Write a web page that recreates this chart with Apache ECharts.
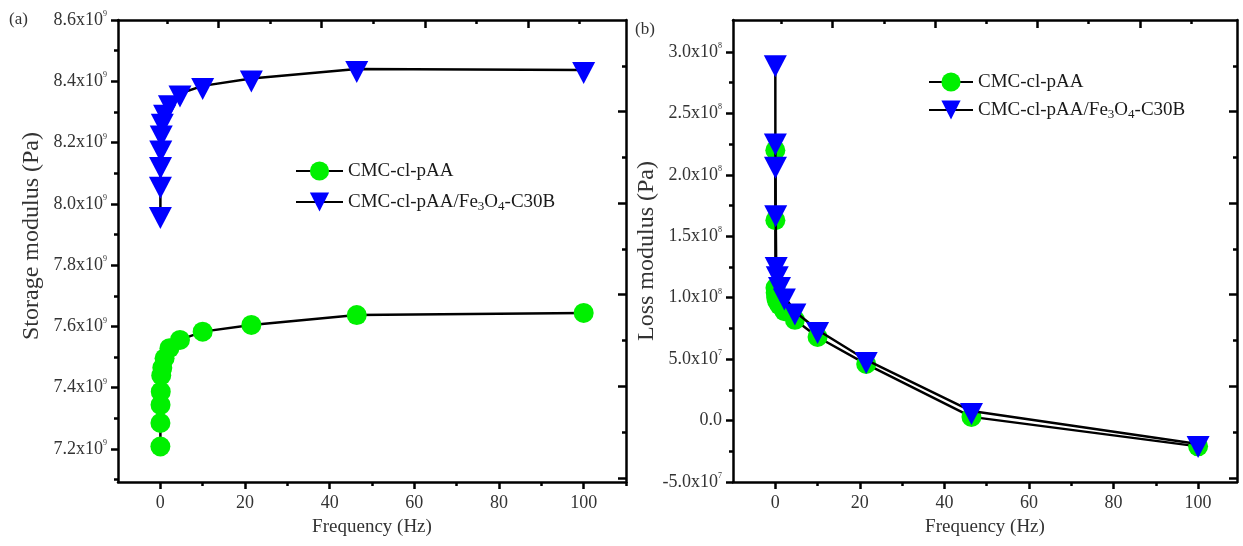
<!DOCTYPE html>
<html><head><meta charset="utf-8">
<script src="https://cdn.jsdelivr.net/npm/echarts@6/dist/echarts.min.js"></script>
<style>html,body{margin:0;padding:0;background:#fff}#c{width:1243px;height:546px}</style>
</head><body><div id="c"></div>
<script>
// ---------- data ----------
const freq = [0.01, 0.0215, 0.0464, 0.1, 0.215, 0.464, 1, 2.15, 4.64, 10, 21.5, 46.4, 100];
const storageCMC = [7.208e9, 7.285e9, 7.344e9, 7.387e9, 7.440e9, 7.465e9, 7.496e9, 7.529e9, 7.556e9, 7.583e9, 7.605e9, 7.637e9, 7.644e9];
const storageFe  = [7.964e9, 8.062e9, 8.127e9, 8.181e9, 8.230e9, 8.268e9, 8.297e9, 8.328e9, 8.360e9, 8.385e9, 8.409e9, 8.440e9, 8.437e9];
const lossCMC = [2.20e8, 1.63e8, 1.08e8, 1.04e8, 1.00e8, 0.97e8, 0.94e8, 0.89e8, 0.82e8, 0.68e8, 0.46e8, 0.03e8, -0.21e8];
const lossFe  = [2.909e8, 2.272e8, 2.081e8, 1.687e8, 1.266e8, 1.19e8, 1.103e8, 1.01e8, 0.887e8, 0.737e8, 0.493e8, 0.077e8, -0.191e8];
const seriesNames = ['CMC-cl-pAA', 'CMC-cl-pAA/Fe3O4-C30B'];
const xTicks = [0, 20, 40, 60, 80, 100];
const storageTicks = [7.2e9, 7.4e9, 7.6e9, 7.8e9, 8.0e9, 8.2e9, 8.4e9, 8.6e9];
const lossTicks = [-5e7, 0, 5e7, 1e8, 1.5e8, 2e8, 2.5e8, 3e8];

// ---------- style ----------
const FONT = 'Liberation Serif';
const TXT = '#333';
const AXW = 2.5;
const mid = a => a.slice(0, -1).map((v, i) => (v + a[i + 1]) / 2);
const hiddenLine = {show: false, onZero: false};

function supLabel(v, exp) {
  return '{m|' + v + 'x10}{s|' + exp + '}';
}
const labelRich = {
  m: {fontFamily: FONT, fontSize: 18, lineHeight: 20, color: TXT},
  s: {fontFamily: FONT, fontSize: 8, lineHeight: 8, color: TXT, verticalAlign: 'top'}
};

function xAxes(grid, max) {
  const minor = mid(xTicks).concat([xTicks[xTicks.length - 1] + 10]);
  const topMaj = [], topMin = [];
  for (let k = 0; k < 10; k++) {
    const v = 0.096 + 0.1016 * k;
    if (v > 1) break;
    (k % 2 ? topMaj : topMin).push(v);
  }
  return [
    {type: 'value', gridIndex: grid, min: -10, max: max, position: 'bottom',
      axisLine: {show: true, onZero: false, lineStyle: {color: '#000', width: AXW}},
      axisTick: {show: true, inside: false, length: 7, customValues: xTicks, lineStyle: {color: '#000', width: AXW}},
      axisLabel: {customValues: xTicks, margin: 12, fontFamily: FONT, fontSize: 18, color: TXT},
      splitLine: {show: false},
      name: 'Frequency (Hz)', nameLocation: 'middle', nameGap: 36, nameMoveOverlap: false,
      nameTextStyle: {fontFamily: FONT, fontSize: 19, color: TXT}},
    {type: 'value', gridIndex: grid, min: -10, max: max, position: 'bottom',
      axisLine: hiddenLine, axisLabel: {show: false}, splitLine: {show: false},
      axisTick: {show: true, inside: false, length: 4, customValues: minor, lineStyle: {color: '#000', width: AXW}}},
    {type: 'value', gridIndex: grid, min: 0, max: 1, position: 'top',
      axisLine: {show: true, onZero: false, lineStyle: {color: '#000', width: AXW}},
      axisLabel: {show: false}, splitLine: {show: false},
      axisTick: {show: true, inside: true, length: 8, customValues: topMaj, lineStyle: {color: '#000', width: AXW}}},
    {type: 'value', gridIndex: grid, min: 0, max: 1, position: 'top',
      axisLine: hiddenLine, axisLabel: {show: false}, splitLine: {show: false},
      axisTick: {show: true, inside: true, length: 4, customValues: topMin, lineStyle: {color: '#000', width: AXW}}}
  ];
}

function yAxes(grid, min, max, ticks, fmt, name, namePad) {
  const minor = mid(ticks).concat([ticks[0] - (ticks[1] - ticks[0]) / 2]).filter(v => v > min && v < max);
  const rMaj = [], rMin = [];
  for (let k = 1; k <= 10; k++) {
    const v = 1 - 0.0991 * k;
    if (v < 0) break;
    (k % 2 ? rMin : rMaj).push(v);
  }
  return [
    {type: 'value', gridIndex: grid, min: min, max: max, position: 'left',
      axisLine: {show: true, onZero: false, lineStyle: {color: '#000', width: AXW}},
      axisTick: {show: true, inside: false, length: 7, customValues: ticks, lineStyle: {color: '#000', width: AXW}},
      axisLabel: {customValues: ticks, margin: 11, formatter: fmt, rich: labelRich},
      splitLine: {show: false},
      name: name, nameLocation: 'middle', nameGap: 74, nameMoveOverlap: false,
      nameTextStyle: {fontFamily: FONT, fontSize: 24, color: TXT, padding: namePad}},
    {type: 'value', gridIndex: grid, min: min, max: max, position: 'left',
      axisLine: hiddenLine, axisLabel: {show: false}, splitLine: {show: false},
      axisTick: {show: true, inside: false, length: 4, customValues: minor, lineStyle: {color: '#000', width: AXW}}},
    {type: 'value', gridIndex: grid, min: 0, max: 1, position: 'right',
      axisLine: {show: true, onZero: false, lineStyle: {color: '#000', width: AXW}},
      axisLabel: {show: false}, splitLine: {show: false},
      axisTick: {show: true, inside: true, length: 8, customValues: rMaj, lineStyle: {color: '#000', width: AXW}}},
    {type: 'value', gridIndex: grid, min: 0, max: 1, position: 'right',
      axisLine: hiddenLine, axisLabel: {show: false}, splitLine: {show: false},
      axisTick: {show: true, inside: true, length: 4, customValues: rMin, lineStyle: {color: '#000', width: AXW}}}
  ];
}

const fmtStorage = v => supLabel((v / 1e9).toFixed(1), 9);
const fmtLoss = v => {
  if (Math.abs(v) < 1) return '{m|0.0}';
  const e = Math.floor(Math.log10(Math.abs(v)) + 1e-9);
  return supLabel((v / Math.pow(10, e)).toFixed(1), e);
};

function lineSeries(name, xi, yi, ys, isFe) {
  const s = {
    type: 'line', name: name, xAxisIndex: xi, yAxisIndex: yi,
    data: freq.map((f, i) => [f, ys[i]]),
    lineStyle: {color: '#000', width: 2.5},
    emphasis: {disabled: true},
    z: isFe ? 3 : 2
  };
  if (isFe) {
    Object.assign(s, {symbol: 'triangle', symbolRotate: 180, symbolSize: [23, 22], symbolOffset: [0, 3],
      itemStyle: {color: '#0000ff'}});
  } else {
    Object.assign(s, {symbol: 'circle', symbolSize: 20, itemStyle: {color: '#00f000'}});
  }
  return s;
}

const legendFmt = n => n.replace('Fe3O4', 'Fe{sub|3}O{sub|4}');
function legend(left, top, w, gap) {
  return {
    orient: 'vertical', left: left, top: top, padding: 0,
    itemWidth: w, itemHeight: 24, itemGap: gap,
    data: seriesNames, formatter: legendFmt, selectedMode: false,
    textStyle: {fontFamily: FONT, fontSize: 19, lineHeight: 22, color: '#1a1a1a',
      rich: {sub: {fontFamily: FONT, fontSize: 13, lineHeight: 13, color: '#1a1a1a', verticalAlign: 'bottom'}}}
  };
}

const chart = echarts.init(document.getElementById('c'), null, {renderer: 'canvas'});
chart.setOption({
  animation: false,
  backgroundColor: '#fff',
  grid: [
    {left: 118, top: 20, width: 508, height: 462, containLabel: false, outerBoundsMode: 'none'},
    {left: 733, top: 20, width: 504, height: 462, containLabel: false, outerBoundsMode: 'none'}
  ],
  xAxis: xAxes(0, 110).concat(xAxes(1, 109.2)),
  yAxis: yAxes(0, 7.0923e9, 8.6e9, storageTicks, fmtStorage, 'Storage modulus (Pa)', [0, 0, 0, 30])
    .concat(yAxes(1, -5e7, 3.26e8, lossTicks, fmtLoss, 'Loss modulus (Pa)', [0, 0, 0, 0])),
  legend: [legend(295, 160, 47, 9), legend(928, 71, 44, 6)],
  graphic: [
    {type: 'text', x: 9, y: 20, style: {text: '(a)', fontFamily: FONT, fontSize: 17, fill: TXT, verticalAlign: 'middle'}},
    {type: 'text', x: 635, y: 30, style: {text: '(b)', fontFamily: FONT, fontSize: 17, fill: TXT, verticalAlign: 'middle'}}
  ],
  series: [
    lineSeries(seriesNames[0], 0, 0, storageCMC, false),
    lineSeries(seriesNames[1], 0, 0, storageFe, true),
    lineSeries(seriesNames[0], 4, 4, lossCMC, false),
    lineSeries(seriesNames[1], 4, 4, lossFe, true)
  ]
});
</script></body></html>
